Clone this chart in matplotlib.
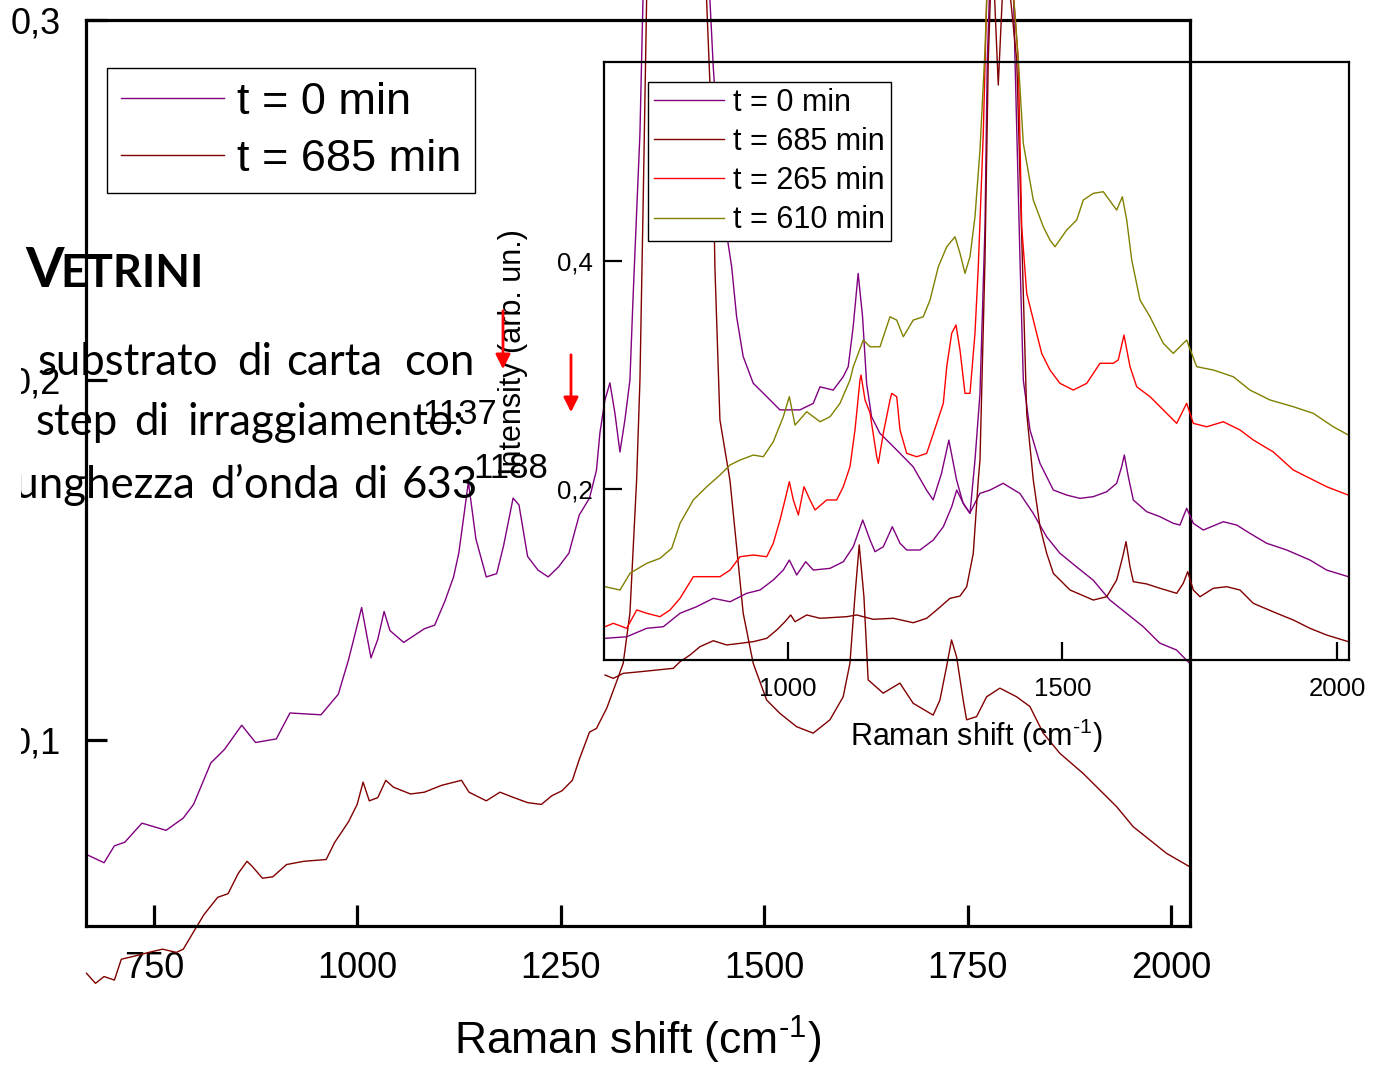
import matplotlib
matplotlib.use('Agg')
import matplotlib.pyplot as plt
from matplotlib.patches import Rectangle, FancyArrowPatch

plt.rcParams['font.family'] = ['Liberation Sans', 'DejaVu Sans']
plt.rcParams['mathtext.fontset'] = 'custom'
plt.rcParams['mathtext.rm'] = 'Liberation Sans'
plt.rcParams['mathtext.it'] = 'Liberation Sans'

# ---------------- data (Raman shift cm^-1, intensity arb. un.) ----------------
main_labels = ['t = 0 min', 't = 685 min']
inset_labels = ['t = 0 min', 't = 685 min', 't = 265 min', 't = 610 min']

main_t0 = [(667, 0.0682), (688.6, 0.0659), (701.3, 0.0706), (714.1, 0.0716), (735.2, 0.0769),
           (764.8, 0.0749), (785.9, 0.0783), (798.6, 0.0821), (819.8, 0.0936), (836.7, 0.0974),
           (857.8, 0.1041), (874.8, 0.0993), (900.3, 0.1003), (917.1, 0.1075), (955.2, 0.1070),
           (976.5, 0.1127), (989.1, 0.1223), (997.6, 0.1299), (1005.2, 0.1368), (1016.7, 0.1228),
           (1025.1, 0.1280), (1032.8, 0.1357), (1040, 0.1304), (1056.9, 0.1271), (1082.3, 0.1309),
           (1095, 0.1319), (1107.6, 0.1386), (1118.2, 0.1453), (1124.6, 0.1519), (1131, 0.1625),
           (1136.4, 0.1717), (1145.7, 0.1558), (1158.4, 0.1453), (1171.2, 0.1462), (1179.6, 0.1539),
           (1191.4, 0.1672), (1198.6, 0.1653), (1209.2, 0.1510), (1221.9, 0.1472), (1234.5, 0.1453),
           (1247.3, 0.1481), (1260, 0.1519), (1272.7, 0.1625), (1285.3, 0.1672), (1293.8, 0.1749),
           (1298.1, 0.1853), (1304.2, 0.1944), (1310.4, 0.1992), (1316.5, 0.1908), (1322.7, 0.1800),
           (1328.8, 0.1889), (1335, 0.2000), (1338.7, 0.2222), (1347.3, 0.2686), (1351, 0.3056),
           (1362, 0.42), (1378, 0.55), (1392, 0.60), (1408, 0.55), (1424, 0.40),
           (1433.3, 0.3056), (1437.4, 0.2870), (1445.6, 0.2593), (1453.8, 0.2407), (1460, 0.2315),
           (1466.1, 0.2176), (1474.2, 0.2065), (1486.5, 0.1991), (1503, 0.1954), (1519.3, 0.1917),
           (1543.9, 0.1917), (1560.3, 0.1935), (1568.6, 0.1981), (1584.9, 0.1972), (1597.1, 0.2009),
           (1603.3, 0.2037), (1609.4, 0.2148), (1615.5, 0.2296), (1620.9, 0.2176), (1625.9, 0.1991),
           (1632, 0.1898), (1642.2, 0.1852), (1662.7, 0.1806), (1683.1, 0.1759), (1699.6, 0.1694),
           (1707.7, 0.1667), (1718, 0.1741), (1727, 0.1833), (1736.5, 0.1722), (1744.6, 0.1657),
           (1752.8, 0.1630), (1765.1, 0.1685), (1777.4, 0.1694), (1793.7, 0.1713), (1814.2, 0.1685),
           (1830.6, 0.1630), (1847, 0.1565), (1863.4, 0.1519), (1883.9, 0.1481), (1904.4, 0.1444),
           (1924.8, 0.1389), (1945.3, 0.1352), (1965.8, 0.1315), (1986.3, 0.1269), (2006.8, 0.1250),
           (2023, 0.1213)]

main_t685 = [(667, 0.0352), (678.1, 0.0324), (688.6, 0.0343), (701.3, 0.0333), (709.8, 0.0391),
             (726.7, 0.0400), (743.7, 0.0410), (760.5, 0.0419), (777.5, 0.0410), (786, 0.0419),
             (798.6, 0.0467), (811.4, 0.0515), (828.3, 0.0563), (841, 0.0573), (853.7, 0.0630),
             (864.3, 0.0663), (870.7, 0.0649), (883.3, 0.0616), (896, 0.0620), (912.9, 0.0654),
             (934.1, 0.0663), (961.6, 0.0668), (972.2, 0.0716), (989.1, 0.0773), (999.7, 0.0821),
             (1007, 0.0883), (1014.6, 0.0831), (1025.1, 0.0840), (1034.9, 0.0888), (1044.2, 0.0869),
             (1065.3, 0.0850), (1082.3, 0.0855), (1103.4, 0.0874), (1127.9, 0.0888), (1137.2, 0.0855),
             (1158.4, 0.0831), (1175.3, 0.0855), (1192.3, 0.0840), (1209.2, 0.0826), (1226.1, 0.0821),
             (1238.9, 0.0845), (1251.5, 0.0859), (1264.2, 0.0888), (1272.7, 0.0946), (1285.3, 0.1022),
             (1293.8, 0.1032), (1306.6, 0.1089), (1319.2, 0.1166), (1326.7, 0.1213), (1335, 0.1353),
             (1343.2, 0.1722), (1347.3, 0.2000), (1351.3, 0.2500), (1355.5, 0.3056), (1370, 0.45),
             (1395, 0.60), (1420, 0.45), (1429.2, 0.3056), (1437.4, 0.2593), (1439.4, 0.2315),
             (1445.6, 0.1889), (1457.9, 0.1722), (1466.1, 0.1537), (1474.2, 0.1352), (1486.5, 0.1213),
             (1503, 0.1111), (1519.3, 0.1074), (1539.8, 0.1037), (1560.2, 0.1019), (1580.8, 0.1056),
             (1597.1, 0.1120), (1605.4, 0.1213), (1611.5, 0.1398), (1616.8, 0.1542), (1622.6, 0.1398),
             (1627.8, 0.1167), (1646.3, 0.1130), (1666.8, 0.1158), (1683.1, 0.1102), (1707.7, 0.1069),
             (1716, 0.1111), (1724.2, 0.1204), (1730.3, 0.1278), (1736.5, 0.1231), (1744.6, 0.1111),
             (1748.8, 0.1056), (1761.1, 0.1065), (1773.4, 0.1120), (1789.7, 0.1144), (1810.3, 0.1120),
             (1826.6, 0.1093), (1843, 0.1019), (1863.4, 0.0963), (1892.1, 0.0907), (1912.6, 0.0861),
             (1933.1, 0.0815), (1953.6, 0.0759), (1974.2, 0.0722), (1994.6, 0.0685), (2023, 0.0648)]

inset_t0 = [(666.7, 0.0690), (706.2, 0.0704), (742.6, 0.0778), (772.9, 0.0792), (803.3, 0.0910),
            (833.7, 0.0968), (863.9, 0.1041), (894.4, 0.1011), (924.8, 0.1085), (949, 0.1114),
            (973.2, 0.1202), (991.4, 0.1289), (1002.4, 0.1377), (1015.8, 0.1246), (1032.2, 0.1362),
            (1046.1, 0.1289), (1076.5, 0.1304), (1100.7, 0.1362), (1118.9, 0.1494), (1136.1, 0.1728),
            (1149.4, 0.1553), (1158.5, 0.1450), (1173.6, 0.1494), (1190, 0.1669), (1204, 0.1524),
            (1216.2, 0.1465), (1240.4, 0.1465), (1264.7, 0.1553), (1282.9, 0.1669), (1298.2, 0.1845),
            (1307.3, 0.1991), (1319.3, 0.1875), (1331.5, 0.1787), (1340.6, 0.2254), (1349.7, 0.2839),
            (1358.8, 0.4301), (1363, 0.5763), (1375, 0.75), (1390, 0.80), (1405, 0.75),
            (1413.5, 0.5763), (1422.6, 0.4009), (1428.6, 0.2956), (1440.8, 0.2518), (1459, 0.2225),
            (1471.2, 0.2108), (1483.3, 0.1991), (1507.6, 0.1947), (1531.9, 0.1918), (1556.1, 0.1933),
            (1580.5, 0.1976), (1598.7, 0.2050), (1607.8, 0.2196), (1612.6, 0.2298), (1619.9, 0.2108),
            (1629, 0.1904), (1653.4, 0.1801), (1677.6, 0.1757), (1701.8, 0.1699), (1714, 0.1684),
            (1726.2, 0.1831), (1738.3, 0.1699), (1756.5, 0.1640), (1792.9, 0.1713), (1817.3, 0.1684),
            (1841.5, 0.1611), (1871.9, 0.1524), (1908.4, 0.1465), (1950.8, 0.1377), (1981.2, 0.1289),
            (2020.6, 0.1231)]

inset_t685 = [(666.7, 0.0368), (681.8, 0.0339), (700, 0.0383), (730.4, 0.0397), (760.8, 0.0412),
              (791.1, 0.0427), (803.3, 0.0485), (821.5, 0.0544), (839.7, 0.0617), (863.9, 0.0669),
              (888.3, 0.0632), (912.6, 0.0646), (936.8, 0.0661), (961.2, 0.0690), (979.4, 0.0763),
              (994.5, 0.0836), (1004.9, 0.0895), (1012.8, 0.0836), (1034.1, 0.0895), (1058.3, 0.0866),
              (1106.9, 0.0880), (1125.1, 0.0895), (1155.4, 0.0857), (1191.8, 0.0866), (1228.2, 0.0827),
              (1252.6, 0.0866), (1270.9, 0.0939), (1295.1, 0.1041), (1313.3, 0.1061), (1325.5, 0.1143),
              (1337.5, 0.1436), (1346.6, 0.2079), (1349.7, 0.2254), (1358.8, 0.4009), (1364.8, 0.5763),
              (1372, 0.68), (1383, 0.5544), (1395, 0.68), (1416.6, 0.5763), (1428.6, 0.3719),
              (1434.8, 0.2664), (1446.8, 0.2079), (1459, 0.1669), (1471.2, 0.1436), (1483.3, 0.1260),
              (1513.7, 0.1114), (1556.1, 0.1026), (1580.5, 0.1055), (1598.7, 0.1202), (1609.7, 0.1406),
              (1615.7, 0.1538), (1623, 0.1318), (1629, 0.1187), (1653.4, 0.1167), (1677.6, 0.1129),
              (1708, 0.1085), (1720, 0.1173), (1728.1, 0.1275), (1738.3, 0.1114), (1750.5, 0.1055),
              (1774.7, 0.1129), (1799.1, 0.1143), (1823.3, 0.1114), (1847.6, 0.0997), (1890.2, 0.0910),
              (1920.4, 0.0851), (1950.8, 0.0778), (1981.2, 0.0719), (2020.6, 0.0661)]

inset_t265 = [(666.7, 0.0792), (681.8, 0.0822), (706.2, 0.0778), (724.4, 0.0939), (742.6, 0.0910),
              (766.8, 0.0880), (785.1, 0.0939), (803.3, 0.1041), (827.5, 0.1231), (851.9, 0.1231),
              (876.1, 0.1231), (894.4, 0.1289), (912.6, 0.1406), (936.8, 0.1421), (961.2, 0.1406),
              (973.2, 0.1524), (985.4, 0.1728), (994.5, 0.1904), (1002.4, 0.2064), (1009.7, 0.1904),
              (1018.8, 0.1772), (1029.1, 0.2020), (1040.1, 0.1904), (1049.2, 0.1816), (1070.5, 0.1904),
              (1088.7, 0.1904), (1100.7, 0.2020), (1112.9, 0.2196), (1122, 0.2518), (1131.1, 0.2956),
              (1133, 0.3000), (1140.3, 0.2781), (1149.4, 0.2667), (1161.6, 0.2283), (1164.5, 0.2225),
              (1173.6, 0.2489), (1185.8, 0.2781), (1188.9, 0.2839), (1198, 0.2810), (1204, 0.2518),
              (1216.2, 0.2313), (1234.4, 0.2283), (1252.6, 0.2313), (1270.9, 0.2576), (1282.9, 0.2752),
              (1289.1, 0.3073), (1298.2, 0.3366), (1306, 0.3439), (1313.3, 0.3219), (1322.4, 0.2839),
              (1331.5, 0.2839), (1340.6, 0.3366), (1346.6, 0.3950), (1355.7, 0.5120), (1361.9, 0.6290),
              (1385, 0.80), (1419.5, 0.5763), (1425.7, 0.4301), (1434.8, 0.3717), (1449.9, 0.3424),
              (1462.1, 0.3190), (1477.2, 0.3044), (1495.4, 0.2927), (1519.7, 0.2868), (1544.1, 0.2927),
              (1568.3, 0.3103), (1592.5, 0.3103), (1601.6, 0.3132), (1612, 0.3351), (1623, 0.3073),
              (1635.2, 0.2897), (1659.4, 0.2810), (1689.8, 0.2664), (1708, 0.2576), (1726.2, 0.2752),
              (1738.3, 0.2576), (1762.7, 0.2546), (1792.9, 0.2590), (1823.3, 0.2518), (1847.6, 0.2430),
              (1884, 0.2325), (1920.4, 0.2167), (1981.2, 0.2020), (2020.6, 0.1947)]

inset_t610 = [(666.7, 0.1143), (694, 0.1114), (712.2, 0.1261), (742.6, 0.1348), (766.8, 0.1392),
              (788.2, 0.1480), (803.3, 0.1699), (827.5, 0.1904), (851.9, 0.2020), (876.1, 0.2123),
              (894.4, 0.2211), (912.6, 0.2254), (936.8, 0.2298), (955, 0.2283), (973.2, 0.2415),
              (991.4, 0.2634), (1002.4, 0.2810), (1012.8, 0.2561), (1034.1, 0.2678), (1058.3, 0.2590),
              (1076.5, 0.2634), (1094.7, 0.2752), (1112.9, 0.2956), (1118.9, 0.3073), (1137.1, 0.3307),
              (1149.4, 0.3248), (1167.6, 0.3248), (1185.8, 0.3511), (1198, 0.3482), (1210, 0.3336),
              (1228.2, 0.3482), (1246.4, 0.3511), (1258.7, 0.3658), (1273.8, 0.3950), (1289.1, 0.4125),
              (1304.2, 0.4213), (1313.3, 0.4068), (1322.4, 0.3892), (1331.5, 0.4038), (1340.6, 0.4389),
              (1349.7, 0.4974), (1358.8, 0.5851), (1361.9, 0.6290), (1385, 0.80), (1419.5, 0.5763),
              (1428.6, 0.5032), (1446.8, 0.4535), (1465, 0.4301), (1477.2, 0.4184), (1486.3, 0.4125),
              (1507.6, 0.4272), (1525.9, 0.4360), (1537.9, 0.4535), (1556.1, 0.4594), (1574.3, 0.4608),
              (1598.7, 0.4447), (1609, 0.4564), (1617, 0.4360), (1626.1, 0.4009), (1641.2, 0.3658),
              (1659.4, 0.3511), (1683.6, 0.3278), (1701.8, 0.3190), (1726.2, 0.3307), (1744.4, 0.3073),
              (1774.7, 0.3044), (1811.1, 0.2985), (1841.5, 0.2868), (1878, 0.2781), (1920.4, 0.2722),
              (1956.8, 0.2664), (1993.3, 0.2546), (2020.6, 0.2474)]

main_xticks = [750, 1000, 1250, 1500, 1750, 2000]
main_yticks = [0.1, 0.2, 0.3]
main_yticklabels = ['0,1', '0,2', '0,3']
inset_xticks = [1000, 1500, 2000]
inset_yticks = [0.2, 0.4]
inset_yticklabels = ['0,2', '0,4']
peak_labels = ['1137', '1188']
xlabel_text = r'Raman shift (cm$^{\text{-}1}$)'

PURPLE, DARKRED, RED, OLIVE = '#800080', '#800000', '#ff0000', '#808000'

# ---------------- figure ----------------
W, H = 1375, 1065
fig = plt.figure(figsize=(W / 100, H / 100), dpi=100)


def rect(x0, y0, x1, y1):
    return [x0 / W, 1 - y1 / H, (x1 - x0) / W, (y1 - y0) / H]


def fx(x):
    return x / W


def fy(y):
    return 1 - y / H


# main axes
ax = fig.add_axes(rect(86, 20, 1190, 926))
ax.set_xlim(666.4, 2023.4)
ax.set_ylim(0.04833, 0.3)
for s in ax.spines.values():
    s.set_linewidth(2.3)
lines_main = []
for data, col in [(main_t0, PURPLE), (main_t685, DARKRED)]:
    xs, ys = zip(*data)
    ln, = ax.plot(xs, ys, color=col, lw=1.0, clip_on=False)
    lines_main.append(ln)
ax.set_xticks(main_xticks)
ax.set_xticklabels([str(t) for t in main_xticks])
ax.set_yticks(main_yticks)
ax.set_yticklabels(main_yticklabels)
ax.tick_params(axis='both', direction='in', length=15, width=2.3, labelsize=26)
ax.tick_params(axis='x', pad=18)
ax.tick_params(axis='y', pad=18)
ax.set_xlabel(xlabel_text, fontsize=32)
ax.xaxis.set_label_coords(0.5, -0.126)
ax.xaxis.label.set_verticalalignment('center')

leg = ax.legend(lines_main, main_labels, loc='upper left', bbox_to_anchor=(fx(107), fy(68)),
                bbox_transform=fig.transFigure, borderaxespad=0, fancybox=False, framealpha=1,
                edgecolor='black', fontsize=32.5, handlelength=2.3, handletextpad=0.28,
                borderpad=0.3, labelspacing=0.36)
leg.get_frame().set_linewidth(1.0)

# inset axes
axi = fig.add_axes(rect(604, 62, 1349, 660))
axi.set_facecolor('none')
axi.set_xlim(664.8, 2021.9)
axi.set_ylim(0.05, 0.5746)
for s in axi.spines.values():
    s.set_linewidth(1.6)
lines_in = []
for data, col in [(inset_t0, PURPLE), (inset_t685, DARKRED), (inset_t265, RED), (inset_t610, OLIVE)]:
    xs, ys = zip(*data)
    ln, = axi.plot(xs, ys, color=col, lw=1.0, clip_on=False)
    lines_in.append(ln)
axi.set_xticks(inset_xticks)
axi.set_xticklabels([str(t) for t in inset_xticks])
axi.set_yticks(inset_yticks)
axi.set_yticklabels(inset_yticklabels)
axi.tick_params(axis='both', direction='in', length=13, width=1.6, labelsize=18.5)
axi.tick_params(axis='x', pad=12)
axi.tick_params(axis='y', pad=8)
axi.set_xlabel(xlabel_text, fontsize=22)
axi.xaxis.set_label_coords(0.5, -0.127)
axi.xaxis.label.set_verticalalignment('center')
axi.set_ylabel('Intensity (arb. un.)', fontsize=22)
axi.yaxis.set_label_coords(-0.122, 0.515)
axi.yaxis.label.set_verticalalignment('center')

legi = axi.legend(lines_in, inset_labels, loc='upper left', bbox_to_anchor=(fx(648), fy(82)),
                  bbox_transform=fig.transFigure, borderaxespad=0, fancybox=False, framealpha=1,
                  edgecolor='black', fontsize=22, handlelength=2.29, handletextpad=0.3,
                  borderpad=0.19, labelspacing=0.30)
legi.get_frame().set_linewidth(1.0)

# peak labels and arrows
fig.text(fx(422), fy(424), peak_labels[0], fontsize=25, ha='left', va='baseline')
fig.text(fx(473), fy(478), peak_labels[1], fontsize=25, ha='left', va='baseline')
for xa, y0, y1 in [(503, 308, 372), (571, 352, 415)]:
    fig.add_artist(FancyArrowPatch(
        (fx(xa), fy(y0)), (fx(xa), fy(y1)), transform=fig.transFigure,
        arrowstyle='-|>', mutation_scale=22, color='red', lw=2))

# slide text overlay
slide_font = ['Lato', 'DejaVu Sans']
fs_slide = 31.5
fig.text(fx(25), fy(287), 'V', fontsize=40, fontweight='bold', family=slide_font, va='baseline')
fig.text(fx(60), fy(287), 'ETRINI', fontsize=32.5, fontweight='bold', family=slide_font, va='baseline')
line1 = [('substrato', 38), ('di', 237), ('carta', 286), ('con', 404)]
line2 = [('step', 36), ('di', 134), ('irraggiamento:', 187)]
for words, base in [(line1, 375), (line2, 435)]:
    for w, xw in words:
        fig.text(fx(xw), fy(base), w, fontsize=fs_slide, family=slide_font, va='baseline')
fig.text(fx(196), fy(498), 'lunghezza', fontsize=fs_slide, family=slide_font, va='baseline', ha='right')
fig.text(fx(210), fy(498), 'd’onda', fontsize=fs_slide, family=slide_font, va='baseline')
fig.text(fx(353), fy(498), 'di', fontsize=fs_slide, family=slide_font, va='baseline')
fig.text(fx(402), fy(498), '633', fontsize=fs_slide, family=slide_font, va='baseline')

# left edge of the slide crop
fig.add_artist(Rectangle((0, fy(780)), fx(21), (780 - 340) / H, transform=fig.transFigure,
                         facecolor='white', edgecolor='none', zorder=50))

fig.savefig('out.png', dpi=100)
